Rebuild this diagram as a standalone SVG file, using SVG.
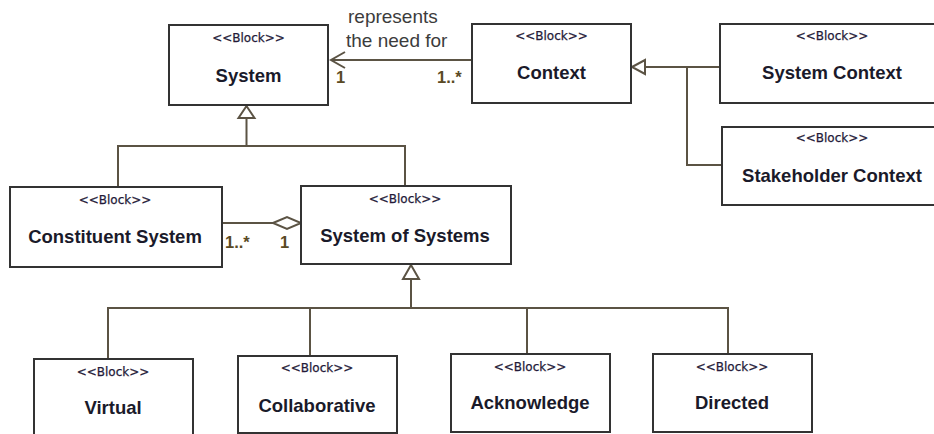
<svg xmlns="http://www.w3.org/2000/svg" width="934" height="434" viewBox="0 0 934 434">
  <style>
    .box { fill: #ffffff; stroke: #333333; stroke-width: 2; }
    .stereo { font-family: "DejaVu Sans", Verdana, sans-serif; font-size: 12px; fill: #241a38; text-anchor: middle; stroke: #241a38; stroke-width: 0.25; }
    .name { font-family: "Liberation Sans", Arial, sans-serif; font-size: 18.5px; font-weight: bold; fill: #1a1a2a; text-anchor: middle; }
    .conn { fill: none; stroke: #5b5344; stroke-width: 2; }
    .head { fill: #ffffff; stroke: #5b5344; stroke-width: 2; stroke-linejoin: miter; }
    .lbl { font-family: "Liberation Sans", Arial, sans-serif; font-size: 19px; fill: #3c3c3c; }
    .mult { font-family: "Liberation Sans", Arial, sans-serif; font-size: 16.5px; font-weight: bold; fill: #5a4a24; }
  </style>

  <!-- connectors -->
  <g id="connectors">
    <!-- Context -> System association -->
    <line class="conn" x1="331" y1="60" x2="472" y2="60"/>
    <polyline class="conn" points="345,52 331,60 345,68"/>
    <text class="lbl" x="348" y="23">represents</text>
    <text class="lbl" x="346" y="47">the need for</text>
    <text class="mult" x="336" y="83">1</text>
    <text class="mult" x="437" y="83">1..*</text>

    <!-- System generalization -->
    <polyline class="conn" points="118,187 118,146 405,146 405,186"/>
    <line class="conn" x1="246.5" y1="118" x2="246.5" y2="146"/>
    <polygon class="head" points="246.5,106 238.5,118 254.5,118"/>

    <!-- Context generalization -->
    <polyline class="conn" points="645,67 720,67"/>
    <polyline class="conn" points="687,67 687,165 722,165"/>
    <polygon class="head" points="632,67 645,60 645,74"/>

    <!-- aggregation Constituent System -> System of Systems -->
    <line class="conn" x1="222" y1="223" x2="273" y2="223"/>
    <polygon class="head" points="273,223 287,217 301,223 287,229"/>
    <text class="mult" x="225" y="248">1..*</text>
    <text class="mult" x="280" y="248">1</text>

    <!-- System of Systems generalization -->
    <line class="conn" x1="411" y1="279" x2="411" y2="308"/>
    <polyline class="conn" points="108,359 108,308 728,308 728,354"/>
    <line class="conn" x1="310" y1="308" x2="310" y2="356"/>
    <line class="conn" x1="527" y1="308" x2="527" y2="354"/>
    <polygon class="head" points="411,265 403,279 419,279"/>
  </g>

  <g id="system">
    <rect class="box" x="169" y="25" width="159" height="80"/>
    <text class="stereo" x="248.5" y="42">&lt;&lt;Block&gt;&gt;</text>
    <text class="name" x="248.5" y="82">System</text>
  </g>

  <g id="context">
    <rect class="box" x="472" y="24" width="159" height="79"/>
    <text class="stereo" x="551.5" y="40">&lt;&lt;Block&gt;&gt;</text>
    <text class="name" x="551.5" y="79">Context</text>
  </g>

  <g id="system-context">
    <rect class="box" x="720" y="24" width="224" height="79"/>
    <text class="stereo" x="832" y="40">&lt;&lt;Block&gt;&gt;</text>
    <text class="name" x="832" y="79">System Context</text>
  </g>

  <g id="stakeholder-context">
    <rect class="box" x="722" y="127" width="222" height="78"/>
    <text class="stereo" x="832" y="142">&lt;&lt;Block&gt;&gt;</text>
    <text class="name" x="832" y="182">Stakeholder Context</text>
  </g>

  <g id="constituent-system">
    <rect class="box" x="10" y="187" width="212" height="80"/>
    <text class="stereo" x="115" y="204">&lt;&lt;Block&gt;&gt;</text>
    <text class="name" x="115" y="243">Constituent System</text>
  </g>

  <g id="system-of-systems">
    <rect class="box" x="301" y="186" width="210" height="78"/>
    <text class="stereo" x="405" y="203">&lt;&lt;Block&gt;&gt;</text>
    <text class="name" x="405" y="242">System of Systems</text>
  </g>

  <g id="virtual">
    <rect class="box" x="34" y="359" width="159" height="90"/>
    <text class="stereo" x="113" y="376">&lt;&lt;Block&gt;&gt;</text>
    <text class="name" x="113" y="414">Virtual</text>
  </g>

  <g id="collaborative">
    <rect class="box" x="238" y="356" width="159" height="77"/>
    <text class="stereo" x="317" y="372">&lt;&lt;Block&gt;&gt;</text>
    <text class="name" x="317" y="412">Collaborative</text>
  </g>

  <g id="acknowledge">
    <rect class="box" x="451" y="354" width="159" height="78"/>
    <text class="stereo" x="530" y="371">&lt;&lt;Block&gt;&gt;</text>
    <text class="name" x="530" y="409">Acknowledge</text>
  </g>

  <g id="directed">
    <rect class="box" x="653" y="354" width="159" height="78"/>
    <text class="stereo" x="732" y="371">&lt;&lt;Block&gt;&gt;</text>
    <text class="name" x="732" y="409">Directed</text>
  </g>
</svg>
